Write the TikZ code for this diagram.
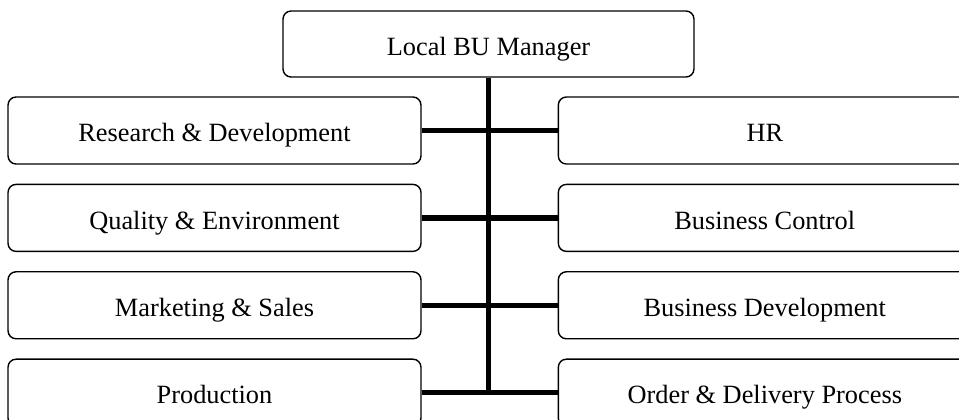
\documentclass[tikz,border=0pt]{standalone}
\usepackage{fontspec}
\setmainfont{Liberation Serif}
\usepackage{tikz}
\usetikzlibrary{positioning}

\begin{document}
\begin{tikzpicture}[x=0.02cm, y=-0.02cm, node distance=0.38cm and 2.72cm,
        unit/.style={draw, line width=0.8pt, rounded corners=0.16cm,
            minimum width=8.26cm, minimum height=1.34cm, inner sep=0pt,
            text height=12.7pt, text depth=0pt,
            font=\fontsize{15}{18}\selectfont},
        link/.style={line width=3pt}]
            \useasboundingbox (0,0) rectangle (959,419);
            \clip (0,0) rectangle (959,419);

            \node [unit, minimum width=8.22cm, minimum height=1.32cm] (BU) at (488.5,44) {Local BU Manager};

            % left column
            \node [unit] (RD) at (214.5,130.5) {Research \& Development};
            \node [unit, below=of RD] (QE) {Quality \& Environment};
            \node [unit, below=of QE] (MS) {Marketing \& Sales};
            \node [unit, below=of MS] (PR) {Production};

            % right column
            \node [unit, right=of RD] (HR) {HR};
            \node [unit, right=of QE] (BC) {Business Control};
            \node [unit, right=of MS] (BD) {Business Development};
            \node [unit, right=of PR] (OD) {Order \& Delivery Process};

            \draw [link] (BU.south) -- (BU.south |- PR.east);
            \draw [link] (RD.east) -- (HR.west);
            \draw [link] (QE.east) -- (BC.west);
            \draw [link] (MS.east) -- (BD.west);
            \draw [link] (PR.east) -- (OD.west);

        \end{tikzpicture}
\end{document}
